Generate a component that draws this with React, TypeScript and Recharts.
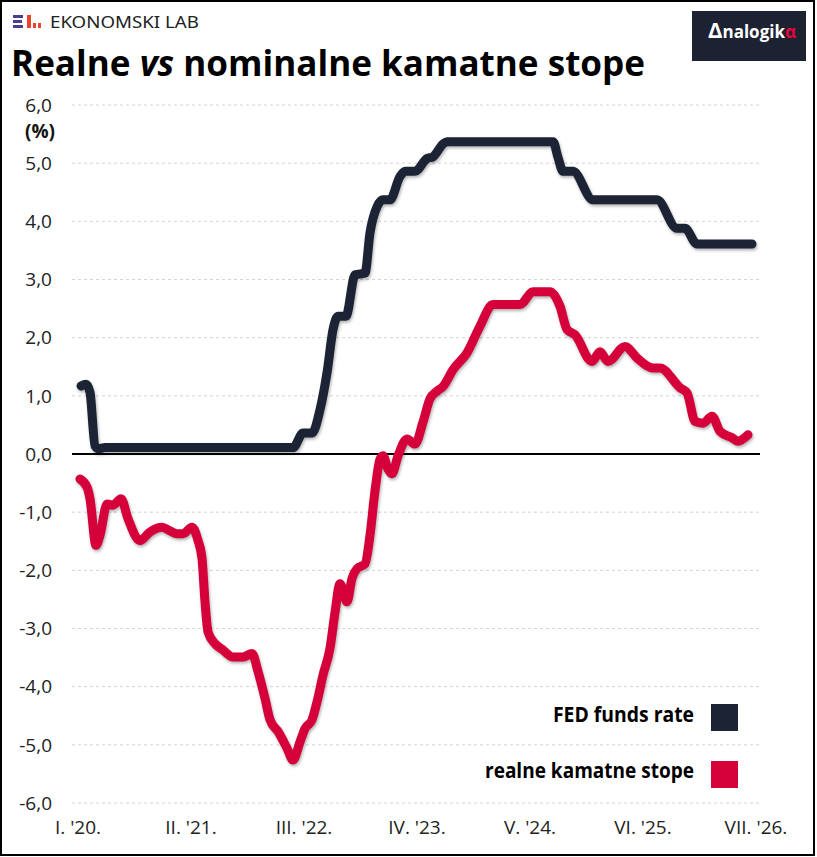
import React from 'react';
import { LineChart, Line, XAxis, YAxis, CartesianGrid, ReferenceLine } from 'recharts';

// x = months since Jan 2020 (fractional), y = percent
const fedMonths = [0.35, 0.92, 1.38, 1.96, 2.42, 3.11, 24.74, 25.89, 26.92, 27.84, 28.65, 29.34, 29.91, 30.83, 31.87, 33.02, 33.59, 34.4, 35.09, 35.89, 37.04, 37.62, 38.77, 40.15, 40.84, 41.99, 42.45, 54.65, 55.22, 55.8, 56.95, 59.25, 66.61, 68.91, 69.83, 71.21, 77.54];
const fedRate = [1.17, 1.2, 1.06, 0.14, 0.09, 0.11, 0.11, 0.36, 0.36, 0.76, 1.4, 2.14, 2.37, 2.37, 3.08, 3.11, 3.8, 4.25, 4.37, 4.37, 4.77, 4.86, 4.86, 5.08, 5.11, 5.33, 5.37, 5.37, 5.1, 4.86, 4.86, 4.37, 4.37, 3.88, 3.88, 3.61, 3.61];

const realMonths = [0.23, 1.04, 1.38, 2.07, 2.53, 3.34, 4.03, 4.95, 5.75, 7.13, 8.28, 9.66, 10.58, 11.39, 12.08, 13.12, 13.81, 14.27, 14.61, 14.96, 15.76, 16.68, 17.83, 18.98, 20.02, 20.71, 21.51, 22.09, 23.01, 24.05, 24.74, 25.54, 26.12, 26.92, 27.5, 28.19, 28.99, 29.57, 30.14, 30.95, 31.52, 32.1, 33.02, 33.59, 34.17, 34.74, 35.09, 35.66, 36.12, 36.82, 37.85, 38.77, 39.69, 40.5, 41.3, 41.99, 43.14, 44.75, 46.25, 47.74, 50.85, 52.35, 54.3, 55.45, 56.26, 57.18, 59.13, 60.05, 60.97, 62.93, 64.31, 66.15, 66.96, 69.26, 70.07, 70.99, 71.91, 72.94, 73.86, 75.24, 75.93, 77.08];
const realRate = [-0.43, -0.57, -0.77, -1.57, -1.4, -0.86, -0.88, -0.77, -1.11, -1.49, -1.34, -1.26, -1.32, -1.37, -1.37, -1.26, -1.49, -1.8, -2.54, -3.06, -3.26, -3.37, -3.49, -3.49, -3.43, -3.74, -4.2, -4.57, -4.77, -5.06, -5.26, -4.95, -4.72, -4.57, -4.26, -3.8, -3.34, -2.72, -2.23, -2.54, -2.14, -1.97, -1.89, -1.4, -0.63, -0.09, -0.03, -0.26, -0.34, -0.03, 0.26, 0.17, 0.55, 0.95, 1.08, 1.16, 1.45, 1.74, 2.2, 2.57, 2.57, 2.79, 2.79, 2.54, 2.14, 2.05, 1.59, 1.76, 1.59, 1.85, 1.65, 1.48, 1.48, 1.14, 1.05, 0.56, 0.53, 0.65, 0.39, 0.28, 0.22, 0.33];

const xTicks = [0, 13, 26, 39, 52, 65, 78];
const xTickLabels = ["I. '20.", "II. '21.", "III. '22.", "IV. '23.", "V. '24.", "VI. '25.", "VII. '26."];
const yTicks = [-6, -5, -4, -3, -2, -1, 0, 1, 2, 3, 4, 5, 6];

const seriesNames = ['FED funds rate', 'realne kamatne stope'];
const NAVY = '#1c2334';
const RED = '#d5003a';

const fedData = fedMonths.map((m, i) => ({ m, v: fedRate[i] }));
const realData = realMonths.map((m, i) => ({ m, v: realRate[i] }));

const FONT = "'Open Sans', 'Noto Sans', sans-serif";

export default function App() {
  return (
    <div style={{ position: 'absolute', left: 0, top: 0, width: 817, height: 857, background: '#fff', overflow: 'hidden' }}>
      <style>{`.recharts-line-curve { filter: drop-shadow(1px 2px 1.5px rgba(0,0,0,0.3)); }`}</style>
      <div style={{ position: 'absolute', left: 0, top: 0 }}>
        <LineChart width={817} height={857} margin={{ top: 105, right: 57, bottom: 24, left: 10 }}>
          <CartesianGrid horizontal vertical={false} stroke="#d4d4d4" strokeDasharray="3 3" />
          <XAxis
            dataKey="m"
            type="number"
            domain={[0, 78]}
            ticks={xTicks}
            interval={0}
            padding={{ left: 6, right: 4 }}
            axisLine={false}
            tickLine={false}
            tickMargin={12}
            allowDuplicatedCategory={false}
            tickFormatter={(v: number) => xTickLabels[xTicks.indexOf(v)] ?? ''}
            tick={{ fill: '#222', fontSize: 19, fontFamily: FONT }}
          />
          <YAxis
            type="number"
            domain={[-6, 6]}
            ticks={yTicks}
            interval={0}
            width={62}
            axisLine={false}
            tickLine={false}
            tickMargin={14}
            tickFormatter={(v: number) => v.toFixed(1).replace('.', ',')}
            tick={{ fill: '#222', fontSize: 19, fontFamily: FONT }}
          />
          <ReferenceLine y={0} stroke="#000" strokeWidth={2} />
          <Line data={fedData} dataKey="v" type="monotone" stroke={NAVY} strokeWidth={9} dot={false} activeDot={false} strokeLinecap="round" strokeLinejoin="round" isAnimationActive={false} />
          <Line data={realData} dataKey="v" type="monotone" stroke={RED} strokeWidth={9} dot={false} activeDot={false} strokeLinecap="round" strokeLinejoin="round" isAnimationActive={false} />
        </LineChart>
      </div>
      <svg width={817} height={857} style={{ position: 'absolute', left: 0, top: 0, pointerEvents: 'none' }}>
        {/* EL logo */}
        <rect x={13} y={15} width={10} height={3} fill="#4b3d92" />
        <rect x={13} y={20} width={9} height={3} fill="#4b3d92" />
        <rect x={13} y={25} width={10} height={3} fill="#4b3d92" />
        <rect x={27} y={15} width={4} height={13} fill="#e8432b" />
        <rect x={33} y={23} width={3} height={5} fill="#e8432b" />
        <rect x={38} y={23} width={3} height={5} fill="#e8432b" />
        <text x={50} y={28} fontFamily="'Noto Sans', sans-serif" fontSize={16} fill="#222" textLength={149} lengthAdjust="spacingAndGlyphs">EKONOMSKI LAB</text>
        {/* Title */}
        <text x={11} y={76} fontFamily={FONT} fontWeight={700} fontSize={36} fill="#000" textLength={634} lengthAdjust="spacingAndGlyphs">
          Realne <tspan fontStyle="italic">vs</tspan> nominalne kamatne stope
        </text>
        {/* Analogika logo */}
        <rect x={692} y={11} width={114} height={50} fill="#1c2232" />
        <text x={708} y={38} fontFamily={FONT} fontWeight={700} fill="#fff">
          <tspan fontSize={22}>Δ</tspan><tspan fontSize={17}>nalogik</tspan><tspan fontSize={17} fill="#e8003d">α</tspan>
        </text>
        {/* (%) */}
        <text x={40} y={138} textAnchor="middle" fontFamily={FONT} fontWeight={700} fontSize={19} fill="#111">(%)</text>
        {/* Legend */}
        <text x={694} y={722} textAnchor="end" fontFamily={FONT} fontWeight={700} fontSize={21} fill="#000" textLength={141} lengthAdjust="spacingAndGlyphs">{seriesNames[0]}</text>
        <rect x={711} y={704} width={27} height={27} fill={NAVY} />
        <text x={694} y={778} textAnchor="end" fontFamily={FONT} fontWeight={700} fontSize={21} fill="#000" textLength={209} lengthAdjust="spacingAndGlyphs">{seriesNames[1]}</text>
        <rect x={711} y={761} width={27} height={27} fill={RED} />
        {/* frame */}
        <rect x={1} y={1} width={813} height={854} fill="none" stroke="#000" strokeWidth={2} />
      </svg>
    </div>
  );
}
